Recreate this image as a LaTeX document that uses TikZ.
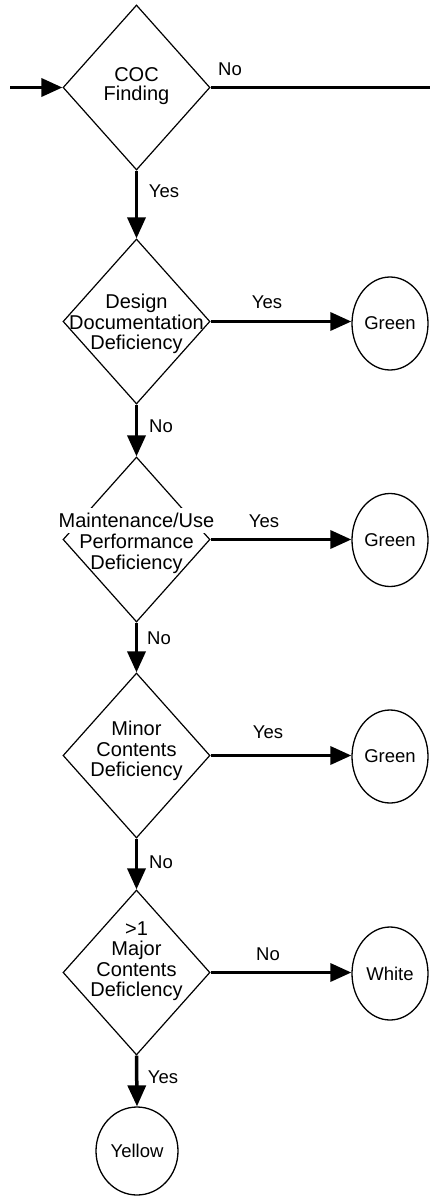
\documentclass[tikz,border=0pt]{standalone}
\usepackage{fontspec}
\setmainfont{Liberation Sans}
\usetikzlibrary{shapes.geometric,arrows.meta}
\tikzset{
  dia/.style={draw, line width=1.2pt, shape=diamond, inner sep=0pt, minimum width=147pt, minimum height=165pt},
  term/.style={draw, line width=1.3pt, shape=ellipse, inner sep=0pt, minimum width=76pt, minimum height=93pt, font=\fontsize{18.5}{21}\selectfont},
  txt/.style={align=center, inner sep=0pt, font=\fontsize{20}{20.5}\selectfont},
  lbl/.style={inner sep=0pt, font=\fontsize{18.5}{21}\selectfont},
  conn/.style={line width=3.5pt, -{Triangle[length=21pt,width=18pt]}},
  plain/.style={line width=3.5pt}
}
\begin{document}
\begin{tikzpicture}[x=1pt,y=-1pt]
\useasboundingbox (0,0) rectangle (430,1198);
% decisions
\node[dia] (d1) at (136.5,87.5) {};
\node[txt, font=\fontsize{20}{19}\selectfont] (t1) at (136.5,86.5) {COC\\Finding};
\node[dia] (d2) at (136.5,321.5) {};
\node[txt] (t2) at (136.5,324) {Design\\Documentation\\Deficiency};
\node[dia] (d3) at (136.5,539.5) {};
\node[txt, fill=white, inner ysep=5pt, inner xsep=1pt] (t3a) at (136.5,520.5) {Maintenance/Use};
\node[txt] (t3b) at (136.5,554) {Performance\\Deficiency};
\node[dia] (d4) at (136.5,755.5) {};
\node[txt] (t4) at (136.5,751) {Minor\\Contents\\Deficiency};
\node[dia] (d5) at (136.5,972.5) {};
\node[txt] (t5) at (136.5,961) {>1\\Major\\Contents\\Deficlency};
% terminals
\node[term] (g1) at (390,323.5) {Green};
\node[term] (g2) at (390,540) {Green};
\node[term] (g3) at (390,756.5) {Green};
\node[term] (w1) at (390,973.5) {White};
\node[term, minimum width=82pt, minimum height=88pt] (y1) at (137,1151) {Yellow};
% free ends
\coordinate (in) at (10,87.5);
\coordinate (out) at (430,87.5);
% connectors
\draw[conn] (in) -- (d1.west);
\draw[plain] (d1.east) -- (out);
\draw[conn] (d1.south) -- (d2.north);
\draw[conn] (d2.east) -- (d2.east -| g1.west);
\draw[conn] (d2.south) -- (d3.north);
\draw[conn] (d3.east) -- (d3.east -| g2.west);
\draw[conn] (d3.south) -- (d4.north);
\draw[conn] (d4.east) -- (d4.east -| g3.west);
\draw[conn] (d4.south) -- (d5.north);
\draw[conn] (d5.east) -- (d5.east -| w1.west);
\draw[conn] (d5.south) -- (y1.north);
% labels
\node[lbl] (l1) at (230,69) {No};
\node[lbl] (l2) at (164,191) {Yes};
\node[lbl] (l3) at (267,302) {Yes};
\node[lbl] (l4) at (161,426) {No};
\node[lbl] (l5) at (264,521) {Yes};
\node[lbl] (l6) at (159,638) {No};
\node[lbl] (l7) at (268,732) {Yes};
\node[lbl] (l8) at (161,862) {No};
\node[lbl] (l9) at (268,954) {No};
\node[lbl] (l10) at (163,1077) {Yes};
\end{tikzpicture}
\end{document}
